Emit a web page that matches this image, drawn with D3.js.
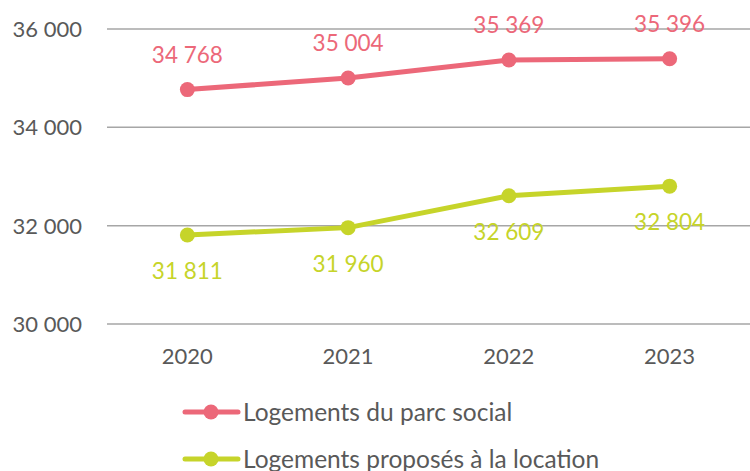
<!DOCTYPE html>
<html>
<head>
<meta charset="utf-8">
<script src="https://cdn.jsdelivr.net/npm/d3@7"></script>
<style>
  body { margin: 0; background: #fff; }
  text { font-family: Lato, "Open Sans", sans-serif; }
</style>
</head>
<body>
<div id="chart"></div>
<script>
// data
var years = ["2020", "2021", "2022", "2023"];
var parcSocial = [34768, 35004, 35369, 35396];
var proposes = [31811, 31960, 32609, 32804];
var yTicks = [30000, 32000, 34000, 36000];
var seriesNames = ["Logements du parc social", "Logements proposés à la location"];

var width = 750, height = 471;
var pink = "#ec6879", green = "#c6d42a", grey = "#595959";

var svg = d3.select("#chart").append("svg")
    .attr("width", width)
    .attr("height", height);

var x = d3.scalePoint().domain(years).range([107, 750]).padding(0.5);
var y = d3.scaleLinear().domain([30000, 36000]).range([324, 29]);

var fmt = function (v) { return d3.format(",")(v).replace(",", " "); };

// gridlines
svg.selectAll(".grid").data(yTicks).enter().append("line")
    .attr("x1", 107).attr("x2", width)
    .attr("y1", function (d) { return y(d); })
    .attr("y2", function (d) { return y(d); })
    .attr("stroke", "#a6a6a6")
    .attr("stroke-width", 1.5);

// y labels
svg.selectAll(".ylab").data(yTicks).enter().append("text")
    .attr("x", 82)
    .attr("y", function (d) { return y(d) + 8; })
    .attr("text-anchor", "end")
    .attr("fill", grey)
    .attr("font-size", 22)
    .text(fmt);

// x labels
svg.selectAll(".xlab").data(years).enter().append("text")
    .attr("x", function (d) { return x(d); })
    .attr("y", 364)
    .attr("text-anchor", "middle")
    .attr("fill", grey)
    .attr("font-size", 22)
    .text(function (d) { return d; });

var line = d3.line()
    .x(function (d, i) { return x(years[i]); })
    .y(function (d) { return y(d); });

function drawSeries(vals, color, dy) {
    svg.append("path")
        .datum(vals)
        .attr("d", line)
        .attr("fill", "none")
        .attr("stroke", color)
        .attr("stroke-width", 5);
    svg.append("g").selectAll("circle").data(vals).enter().append("circle")
        .attr("cx", function (d, i) { return x(years[i]); })
        .attr("cy", function (d) { return y(d); })
        .attr("r", 7.5)
        .attr("fill", color);
    svg.append("g").selectAll("text").data(vals).enter().append("text")
        .attr("x", function (d, i) { return x(years[i]); })
        .attr("y", function (d) { return y(d) + dy; })
        .attr("text-anchor", "middle")
        .attr("fill", color)
        .attr("font-size", 22.5)
        .text(fmt);
}

drawSeries(parcSocial, pink, -27);
drawSeries(proposes, green, 44);

// legend
var legend = svg.selectAll(".legend").data(seriesNames).enter().append("g")
    .attr("transform", function (d, i) { return "translate(0," + (412 + i * 47) + ")"; });
legend.append("line")
    .attr("x1", 185).attr("x2", 238)
    .attr("y1", 0).attr("y2", 0)
    .attr("stroke", function (d, i) { return i == 0 ? pink : green; })
    .attr("stroke-width", 5)
    .attr("stroke-linecap", "round");
legend.append("circle")
    .attr("cx", 211).attr("cy", 0).attr("r", 7.5)
    .attr("fill", function (d, i) { return i == 0 ? pink : green; });
legend.append("text")
    .attr("x", 243).attr("y", 9)
    .attr("fill", grey)
    .attr("font-size", 24.5)
    .text(function (d) { return d; });
</script>
</body>
</html>
